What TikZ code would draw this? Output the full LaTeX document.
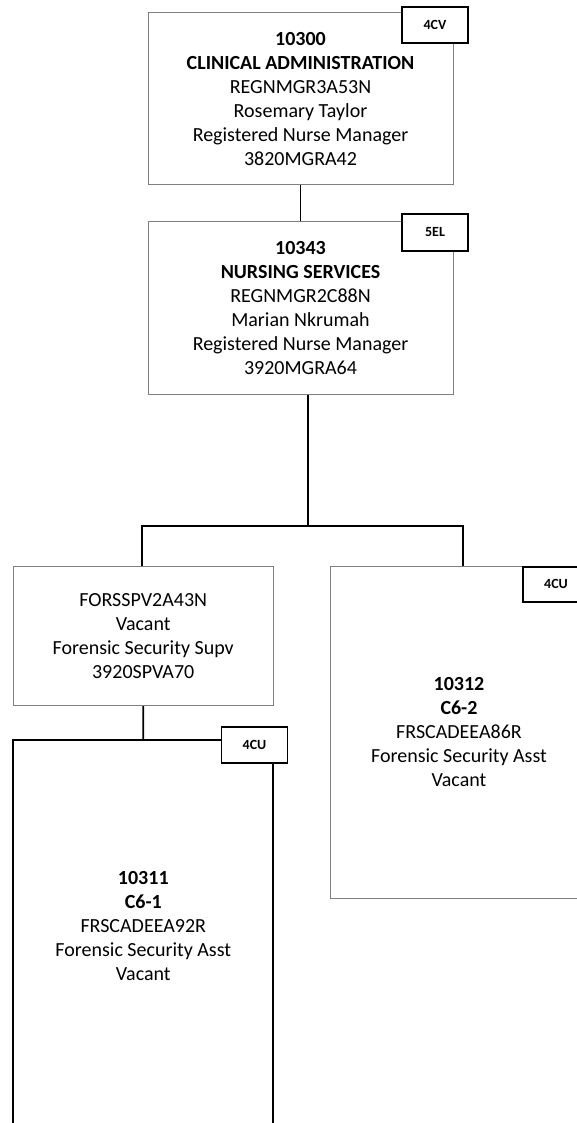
\documentclass[tikz,border=0pt]{standalone}
\usepackage{fontspec}
\setmainfont{Carlito}
\usetikzlibrary{positioning,calc}
\definecolor{OCLine}{HTML}{7F7F7F}
\definecolor{OCInk}{HTML}{000000}
\tikzset{
  ocbox/.style={draw=OCLine, line width=1pt, fill=white, align=center,
    inner sep=0pt, font={\fontsize{20}{24}\selectfont}},
  ocopen/.style={ocbox, draw=OCInk, line width=1.8pt},
  octext/.style={align=center, inner sep=0pt, font={\fontsize{20}{24}\selectfont}},
  ocbadge/.style={draw=OCInk, line width=1.8pt, fill=white, inner sep=0pt,
    minimum width=66pt, minimum height=36pt, font={\bfseries\fontsize{14}{16}\selectfont}},
  occonn/.style={draw=OCInk, line width=1.8pt}
}
\begin{document}
\begin{tikzpicture}[x=1pt, y=-1pt]
  \useasboundingbox (0,0) rectangle (576,1123);

  \node[ocbox, minimum width=305pt, minimum height=172pt] (admin) at (300.5,98.9)
    {\textbf{10300}\\\textbf{CLINICAL ADMINISTRATION}\\REGNMGR3A53N\\Rosemary Taylor\\
     Registered Nurse Manager\\3820MGRA42};
  \node[ocbox, minimum width=305pt, minimum height=173pt] (nursing) at (300.5,308.4)
    {\textbf{10343}\\\textbf{NURSING SERVICES}\\REGNMGR2C88N\\Marian Nkrumah\\
     Registered Nurse Manager\\3920MGRA64};

  \node[ocbox, minimum width=260pt, minimum height=139pt] (supv) at (143.2,636.2)
    {FORSSPV2A43N\\Vacant\\Forensic Security Supv\\3920SPVA70};
  \node[ocbox, minimum width=258pt, minimum height=331.6pt] (asstB) at (459,732.5)
    {\textbf{10312}\\\textbf{C6-2}\\FRSCADEEA86R\\Forensic Security Asst\\Vacant};

  \node[ocopen, minimum width=260pt, minimum height=400pt, anchor=north] (asstA) at (143.3,739.3) {};
  \node[octext] (asstAtext) at (143.3,926)
    {\textbf{10311}\\\textbf{C6-1}\\FRSCADEEA92R\\Forensic Security Asst\\Vacant};

  % grade tags
  \node[ocbadge] (tagadmin) at (435,25) {4CV};
  \node[ocbadge, minimum height=37pt] (tagnursing) at (435,232.5) {5EL};
  \node[ocbadge, minimum height=35pt] (tagB) at (556,584.2) {4CU};
  \node[ocbadge] (tagA) at (254.5,744.7) {4CU};

  \coordinate (bus) at (308,526);
  \draw[occonn] (admin.south) -- (nursing.north);
  \draw[occonn] (bus |- nursing.south) -- (bus);
  \draw[occonn] ([xshift=-1.5pt]supv.north) |- (bus) -| ([xshift=4.3pt]asstB.north);
  \draw[occonn] (supv.south) -- (asstA.north);
\end{tikzpicture}
\end{document}
